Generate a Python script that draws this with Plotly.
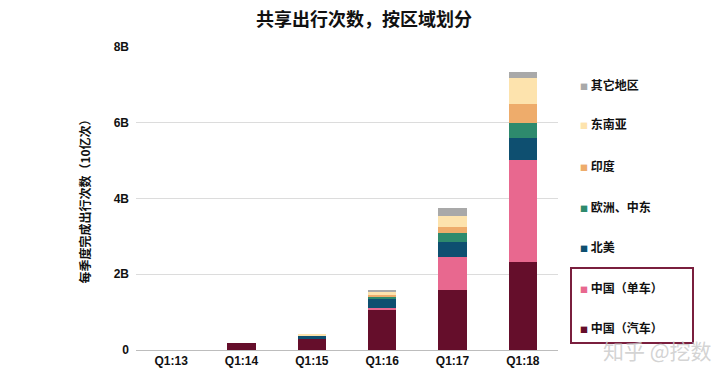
import plotly.graph_objects as go

categories = ["Q1:13", "Q1:14", "Q1:15", "Q1:16", "Q1:17", "Q1:18"]
china_car = [0.0, 0.18, 0.28, 1.07, 1.58, 2.32]
china_bike = [0.0, 0.0, 0.0, 0.03, 0.88, 2.70]
north_america = [0.0, 0.0, 0.10, 0.24, 0.40, 0.59]
europe_me = [0.0, 0.0, 0.01, 0.06, 0.24, 0.38]
india = [0.0, 0.0, 0.0, 0.05, 0.16, 0.50]
se_asia = [0.0, 0.0, 0.01, 0.10, 0.29, 0.70]
other = [0.0, 0.0, 0.0, 0.02, 0.19, 0.14]

series_names = ["中国（汽车）", "中国（单车）", "北美", "欧洲、中东", "印度", "东南亚", "其它地区"]
series_values = [china_car, china_bike, north_america, europe_me, india, se_asia, other]
series_colors = ["#650e2b", "#e8688f", "#0e4f70", "#2e8a6d", "#eeac6b", "#fde3ad", "#a9a9a9"]

tick_vals = [0, 2, 4, 6, 8]
tick_text = ["0", "2B", "4B", "6B", "8B"]

CJK = "Noto Sans CJK SC"
LAT = "Liberation Sans, Arial, sans-serif"

fig = go.Figure()
for name, vals, col in zip(series_names, series_values, series_colors):
    fig.add_trace(go.Bar(x=categories, y=vals, name=name, marker=dict(color=col, line=dict(width=0)),
                         showlegend=False))

# plot area geometry (pixels)
L, R, T, B = 136, 558, 47, 350
W, H = R - L, B - T

def px_x(x):
    return (x - L) / W

def px_y(y):
    return (B - y) / H

legend_y = [327, 287, 246, 206, 165, 124, 84]
annotations = []
for name, col, yy in zip(series_names, series_colors, legend_y):
    annotations.append(dict(
        x=px_x(578), y=px_y(yy), xref="paper", yref="paper", xanchor="left", yanchor="middle",
        text=f'<span style="font-size:8px;color:{col}">■</span> <b>{name}</b>',
        showarrow=False, font=dict(family=CJK, size=12, color="#111111")))

annotations.append(dict(
    x=px_x(657), y=px_y(350), xref="paper", yref="paper", xanchor="center", yanchor="middle",
    text="知乎 @挖数", showarrow=False,
    font=dict(family=CJK, size=21, color="rgba(200,200,200,0.8)")))

fig.update_layout(
    width=720, height=376,
    margin=dict(l=L, r=720 - R, t=T, b=376 - B),
    barmode="stack", bargap=0.6,
    paper_bgcolor="white", plot_bgcolor="white",
    title=dict(text="<b>共享出行次数，按区域划分</b>", x=364 / 720, xanchor="center",
               y=1 - 20 / 376, yanchor="middle",
               font=dict(family=CJK, size=18, color="#111111")),
    xaxis=dict(showgrid=False, showline=True, linecolor="#bdbdbd", linewidth=1,
               automargin=False, ticks="",
               tickvals=categories, ticktext=[f"<b>{c}</b>" for c in categories],
               tickfont=dict(family=LAT, size=12, color="#111111"),
               ticklabelstandoff=0),
    yaxis=dict(range=[0, 8], tickvals=tick_vals, ticktext=[f"<b>{t}</b>" for t in tick_text],
               automargin=False,
               showgrid=True, gridcolor="#dcdcdc", gridwidth=1, zeroline=False,
               showline=False, ticks="", ticklabelstandoff=6,
               tickfont=dict(family=LAT, size=12, color="#111111"),
               title=dict(text="<b>每季度完成出行次数（10亿次）</b>", standoff=20,
                          font=dict(family=CJK, size=12, color="#111111"))),
    annotations=annotations,
    shapes=[dict(type="rect", xref="paper", yref="paper",
                 x0=px_x(571), x1=px_x(693), y0=px_y(343), y1=px_y(268),
                 line=dict(color="#7a1f3e", width=2), fillcolor="rgba(0,0,0,0)")],
)

fig.write_html("out.html")
